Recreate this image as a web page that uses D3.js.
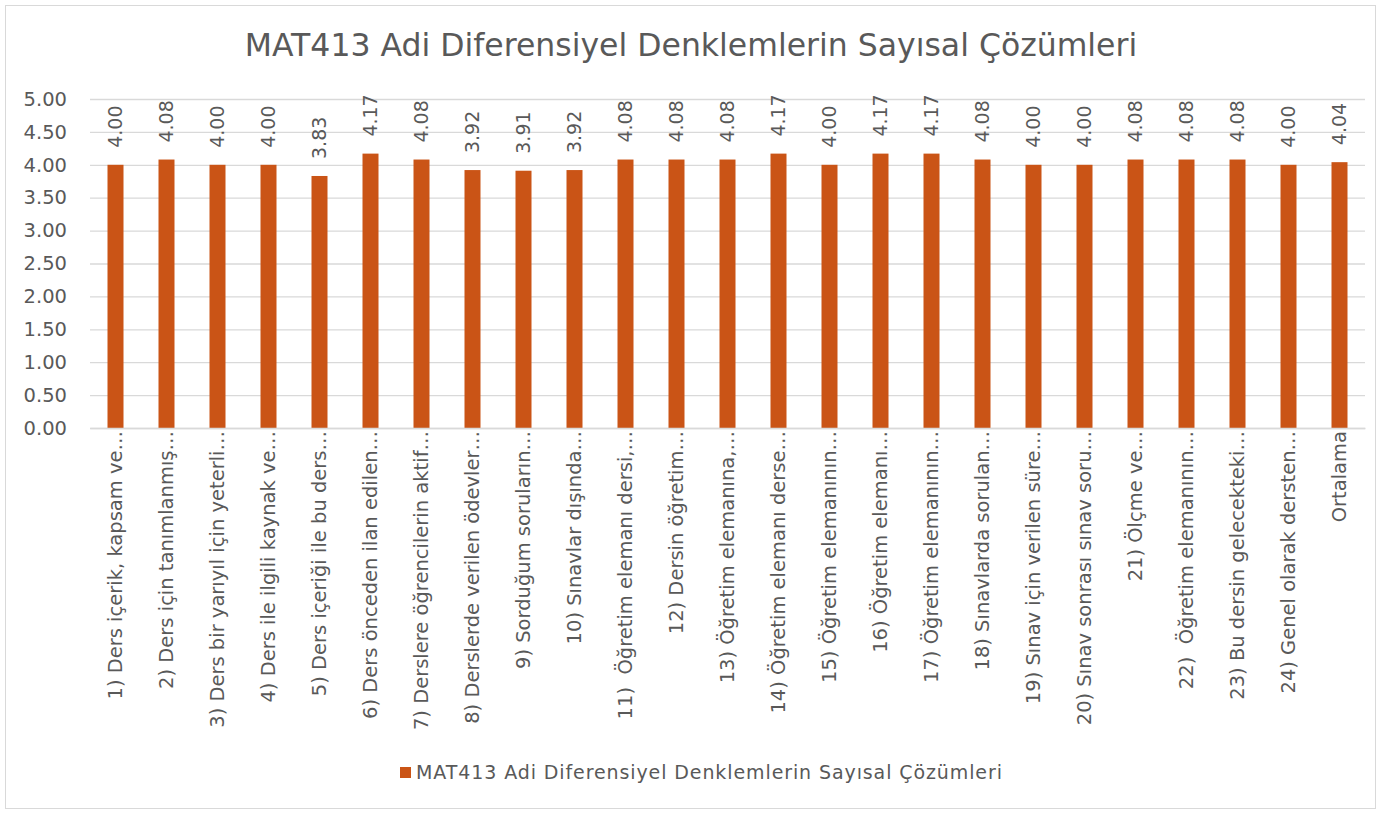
<!DOCTYPE html>
<html>
<head>
<meta charset="utf-8">
<script src="https://cdn.jsdelivr.net/npm/d3@7"></script>
<style>
  body { margin: 0; background: #fff; }
  text { font-family: "DejaVu Sans", Arial, sans-serif; fill: #595959; }
</style>
</head>
<body>
<div id="chart"></div>
<script>
// chart data
const title = 'MAT413 Adi Diferensiyel Denklemlerin Sayısal Çözümleri';
const categories = [
    '1) Ders içerik, kapsam ve…',
    '2) Ders için tanımlanmış…',
    '3) Ders bir yarıyıl için yeterli…',
    '4) Ders ile ilgili kaynak ve…',
    '5) Ders içeriği ile bu ders…',
    '6) Ders önceden ilan edilen…',
    '7) Derslere öğrencilerin aktif…',
    '8) Derslerde verilen ödevler…',
    '9) Sorduğum soruların…',
    '10) Sınavlar dışında…',
    '11)  Öğretim elemanı dersi,…',
    '12) Dersin öğretim…',
    '13) Öğretim elemanına,…',
    '14) Öğretim elemanı derse…',
    '15) Öğretim elemanının…',
    '16) Öğretim elemanı…',
    '17) Öğretim elemanının…',
    '18) Sınavlarda sorulan…',
    '19) Sınav için verilen süre…',
    '20) Sınav sonrası sınav soru…',
    '21) Ölçme ve…',
    '22)  Öğretim elemanının…',
    '23) Bu dersin gelecekteki…',
    '24) Genel olarak dersten…',
    'Ortalama'
];
const values = [4.00, 4.08, 4.00, 4.00, 3.83, 4.17, 4.08, 3.92, 3.91, 3.92, 4.08, 4.08,
    4.08, 4.17, 4.00, 4.17, 4.17, 4.08, 4.00, 4.00, 4.08, 4.08, 4.08, 4.00, 4.04];
const yTicks = [0, 0.5, 1, 1.5, 2, 2.5, 3, 3.5, 4, 4.5, 5];

const data = categories.map((c, i) => ({ cat: c, value: values[i] }));

const width = 1381, height = 814;
const margin = { top: 99, right: 16, bottom: 386, left: 90 };
const chartWidth = width - margin.left - margin.right;
const chartHeight = height - margin.top - margin.bottom;
const barColor = '#CA5416';

const svg = d3.select('#chart')
    .append('svg')
    .attr('width', width)
    .attr('height', height);

// outer frame
svg.append('rect')
    .attr('x', 5.5).attr('y', 5.5)
    .attr('width', width - 11).attr('height', height - 11)
    .attr('fill', '#fff')
    .attr('stroke', '#D9D9D9');

svg.append('text')
    .attr('x', 691)
    .attr('y', 56)
    .attr('text-anchor', 'middle')
    .style('font-size', '31.5px')
    .text(title);

const chart = svg.append('g')
    .attr('transform', `translate(${margin.left},${margin.top})`);

const xScale = d3.scaleBand()
    .domain(categories)
    .range([0, chartWidth]);
const yScale = d3.scaleLinear()
    .domain([0, 5])
    .range([chartHeight, 0]);

// gridlines
const yGridlines = d3.axisLeft()
    .scale(yScale)
    .tickValues(yTicks)
    .tickSize(-chartWidth)
    .tickFormat('');
const grid = chart.append('g').call(yGridlines);
grid.select('.domain').remove();
grid.selectAll('line').attr('stroke', '#D9D9D9').attr('stroke-width', 1.3);

// y axis labels
const yAxis = d3.axisLeft()
    .scale(yScale)
    .tickValues(yTicks)
    .tickSize(0)
    .tickPadding(23)
    .tickFormat(d3.format('.2f'));
const yg = chart.append('g').call(yAxis);
yg.attr('font-family', null);
yg.select('.domain').remove();
yg.selectAll('text')
    .style('font-size', '19.5px')
    .attr('fill', '#595959');

// bars
const barWidth = 16;
chart.selectAll('.bar')
    .data(data)
    .enter()
    .append('rect')
    .classed('bar', true)
    .attr('x', d => xScale(d.cat) + xScale.bandwidth() / 2 - barWidth / 2)
    .attr('y', d => yScale(d.value))
    .attr('width', barWidth)
    .attr('height', d => chartHeight - yScale(d.value))
    .attr('fill', barColor);

// value labels
chart.selectAll('.bar-label')
    .data(data)
    .enter()
    .append('text')
    .classed('bar-label', true)
    .attr('transform', d => `translate(${xScale(d.cat) + xScale.bandwidth() / 2},${yScale(d.value) - 17}) rotate(-90)`)
    .attr('dy', '0.35em')
    .style('font-size', '19px')
    .text(d => d.value.toFixed(2));

// x axis
const xAxis = d3.axisBottom()
    .scale(xScale)
    .tickSize(0);
const xg = chart.append('g')
    .attr('transform', `translate(0,${chartHeight})`)
    .call(xAxis);
xg.attr('font-family', null);
xg.select('.domain').attr('stroke', '#D9D9D9').attr('stroke-width', 1.3);
xg.selectAll('text')
    .attr('transform', 'rotate(-90)')
    .attr('x', -3)
    .attr('y', 0)
    .attr('dy', '0.35em')
    .attr('text-anchor', 'end')
    .attr('fill', '#595959')
    .style('font-size', '19.5px')
    .style('white-space', 'pre');

// legend
const legend = svg.append('g').attr('transform', 'translate(400,767)');
legend.append('rect')
    .attr('width', 11).attr('height', 11)
    .attr('fill', barColor);
legend.append('text')
    .attr('x', 16)
    .attr('y', 12)
    .style('font-size', '19px')
    .style('letter-spacing', '0.9px')
    .text(title);
</script>
</body>
</html>
